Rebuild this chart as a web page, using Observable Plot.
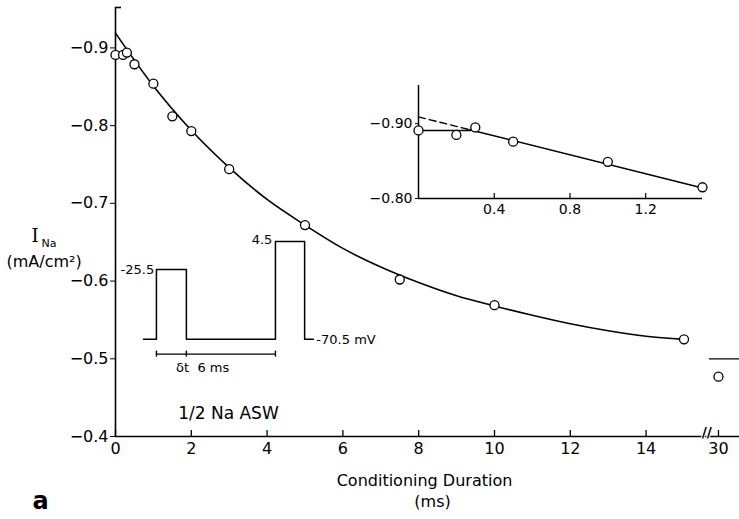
<!DOCTYPE html>
<html>
<head>
<meta charset="utf-8">
<script src="https://cdn.jsdelivr.net/npm/d3@7"></script>
<script src="https://cdn.jsdelivr.net/npm/@observablehq/plot@0.6"></script>
<style>
  body { margin: 0; background: #fff; }
  #wrap { position: relative; width: 739px; height: 519px; background: #fff; }
  #wrap svg { position: absolute; background: transparent; }
</style>
</head>
<body>
<div id="wrap"></div>
<script>
// ---- Main panel data (conditioning duration, ms ; I_Na, mA/cm^2) ----
const pointT = [0, 0.2, 0.3, 0.5, 1, 1.5, 2, 3, 5, 7.5, 10, 15, 30];
const pointI = [-0.891, -0.891, -0.894, -0.879, -0.854, -0.812, -0.793, -0.744, -0.672, -0.602, -0.569, -0.525, -0.477];

// fitted exponential curve
const curveT = [0, 1, 2, 3, 4, 5, 6, 7, 8, 9, 10, 11, 12, 13, 14, 15];
const curveI = [-0.919, -0.851, -0.794, -0.746, -0.705, -0.672, -0.642, -0.618, -0.598, -0.581, -0.568, -0.556, -0.545, -0.536, -0.529, -0.525];

// asymptote marker near 30 ms
const asymT = [19, 60];
const asymI = -0.5;

const xTicks = [0, 2, 4, 6, 8, 10, 12, 14, 30];
const yTicks = [-0.4, -0.5, -0.6, -0.7, -0.8, -0.9];
const breakAt = 15.6;

// pulse protocol schematic (drawn in main-panel units)
const pulseT = [0.74, 1.08, 1.08, 1.87, 1.87, 4.22, 4.22, 4.99, 4.99, 5.22];
const pulseI = [-0.525, -0.525, -0.615, -0.615, -0.525, -0.525, -0.651, -0.651, -0.525, -0.525];
const bracketT = [1.08, 1.87, 4.22];
const bracketI = -0.506;
const labelsEnd = [
  {t: 1.02, i: -0.614, text: "-25.5"},
  {t: 4.14, i: -0.653, text: "4.5"}
];
const labelsStart = [
  {t: 5.30, i: -0.525, text: "-70.5 mV"}
];
const labelsMid = [
  {t: 2.30, i: -0.488, text: "\u03b4t  6 ms"}
];
const solutionLabel = "1/2 Na ASW";

// ---- Inset data ----
const insetT = [0, 0.2, 0.3, 0.5, 1.0, 1.5];
const insetI = [-0.891, -0.885, -0.895, -0.876, -0.849, -0.815];
const insetFitT = [0.27, 1.5];
const insetFitI = [-0.892, -0.814];
const insetDashT = [0, 0.27];
const insetDashI = [-0.909, -0.892];
const insetFlatT = [0, 0.28];
const insetFlatI = -0.891;
const insetXTicks = [0.4, 0.8, 1.2];
const insetYTicks = [-0.8, -0.9];

// broken x axis: compress everything past the break
const squeeze = 0.0215;
const brk = t => t <= breakAt ? t : breakAt + (t - breakAt) * squeeze;
const unbrk = u => u <= breakAt + 1e-9 ? u : breakAt + (u - breakAt) / squeeze;

const font = "DejaVu Sans, Verdana, sans-serif";
const pts = pointT.map((t, k) => ({t: brk(t), i: pointI[k]}));
const curve = curveT.map((t, k) => ({t: brk(t), i: curveI[k]}));
const pulse = pulseT.map((t, k) => ({t, i: pulseI[k]}));
const txt = {x: "t", y: "i", text: "text", fontSize: 13, fill: "#000"};

const main = Plot.plot({
  width: 739,
  height: 519,
  marginLeft: 115,
  marginRight: 0,
  marginTop: 7,
  marginBottom: 83,
  style: {fontFamily: font, fontSize: "16px", color: "#000", background: "transparent"},
  x: {domain: [0, 624 / 37.9]},
  y: {domain: [-0.4, -0.952]},
  marks: [
    // axes lines
    Plot.ruleX([0], {stroke: "#000", strokeWidth: 1.6}),
    Plot.ruleY([-0.952], {x1: 0, x2: 0, insetRight: -6, stroke: "#000", strokeWidth: 1.6}),
    Plot.ruleY([-0.4], {stroke: "#000", strokeWidth: 1.6}),
    Plot.ruleX(xTicks.map(brk), {x: d => d, y1: -0.4, y2: -0.4, insetTop: -6, stroke: "#000", strokeWidth: 1.3}),
    Plot.text(["//"], {x: breakAt, y: -0.4, text: d => d, fontSize: 14, fontWeight: "bold", fill: "#000", stroke: "#fff", strokeWidth: 2, paintOrder: "stroke", dy: -4}),
    Plot.axisY(yTicks, {tickSize: 5, tickPadding: 2, fontSize: 16, label: null, tickFormat: d => "\u2212" + (-d).toFixed(1)}),
    Plot.axisX(xTicks.map(brk), {tickSize: 0, tickPadding: 6, fontSize: 16, label: null, tickFormat: u => String(Math.round(unbrk(u)))}),
    // data
    Plot.line(curve, {x: "t", y: "i", curve: "monotone-x", stroke: "#000", strokeWidth: 1.6}),
    Plot.ruleY([asymI], {x1: brk(asymT[0]), x2: brk(asymT[1]), stroke: "#000", strokeWidth: 1.3}),
    Plot.dot(pts, {x: "t", y: "i", r: 4.5, fill: "#fff", stroke: "#000", strokeWidth: 1.3}),
    // pulse schematic
    Plot.line(pulse, {x: "t", y: "i", stroke: "#000", strokeWidth: 1.5}),
    Plot.ruleY([bracketI], {x1: bracketT[0], x2: bracketT[2], stroke: "#000", strokeWidth: 1.4}),
    Plot.ruleX(bracketT, {x: d => d, y1: bracketI, y2: bracketI, insetTop: -3, insetBottom: -3, stroke: "#000", strokeWidth: 1.4}),
    Plot.text(labelsEnd, {...txt, textAnchor: "end"}),
    Plot.text(labelsStart, {...txt, textAnchor: "start"}),
    Plot.text(labelsMid, {...txt, textAnchor: "middle"}),
    Plot.text([solutionLabel], {x: 2.98, y: -0.430, text: d => d, fontSize: 17, fill: "#000"}),
    // axis titles
    Plot.text(["Conditioning Duration"], {frameAnchor: "bottom", dx: -3, dy: 49, text: d => d, fontSize: 16, fill: "#000"}),
    Plot.text(["(ms)"], {frameAnchor: "bottom", dx: 5, dy: 70, text: d => d, fontSize: 16, fill: "#000"}),
    Plot.text(["I"], {frameAnchor: "top-left", textAnchor: "start", dx: -84, dy: 222, text: d => d, fontSize: 18, fontFamily: "DejaVu Serif, serif", fill: "#000"}),
    Plot.text(["Na"], {frameAnchor: "top-left", textAnchor: "start", dx: -74, dy: 232, text: d => d, fontSize: 11, fill: "#000"}),
    Plot.text(["(mA/cm\u00b2)"], {frameAnchor: "top-left", textAnchor: "start", dx: -109, dy: 248, text: d => d, fontSize: 16, fill: "#000"}),
    Plot.text(["a"], {frameAnchor: "bottom-left", textAnchor: "start", dx: -83, dy: 72, text: d => d, fontSize: 24, fontWeight: "bold", fill: "#000"})
  ]
});
main.style.left = "0px";
main.style.top = "0px";

const ins = insetT.map((t, k) => ({t, i: insetI[k]}));
const inset = Plot.plot({
  width: 370,
  height: 150,
  marginLeft: 58,
  marginRight: 28,
  marginTop: 10,
  marginBottom: 27,
  style: {fontFamily: font, fontSize: "14px", color: "#000", background: "transparent"},
  x: {domain: [0, 1.5]},
  y: {domain: [-0.8, -0.951]},
  marks: [
    Plot.ruleX([0], {stroke: "#000", strokeWidth: 1.5}),
    Plot.ruleY([-0.8], {x1: 0, x2: 1.5, stroke: "#000", strokeWidth: 1.5}),
    Plot.ruleX(insetXTicks, {x: d => d, y1: -0.8, y2: -0.8, insetTop: -5, stroke: "#000", strokeWidth: 1.2}),
    Plot.axisY(insetYTicks, {tickSize: 3, tickPadding: 3, fontSize: 14, label: null, tickFormat: d => "\u2212" + (-d).toFixed(2)}),
    Plot.axisX(insetXTicks, {tickSize: 0, tickPadding: 6, fontSize: 14, label: null}),
    Plot.line(insetDashT.map((t, k) => ({t, i: insetDashI[k]})), {x: "t", y: "i", stroke: "#000", strokeWidth: 1.4, strokeDasharray: "7,4"}),
    Plot.line(insetFitT.map((t, k) => ({t, i: insetFitI[k]})), {x: "t", y: "i", stroke: "#000", strokeWidth: 1.5}),
    Plot.ruleY([insetFlatI], {x1: insetFlatT[0], x2: insetFlatT[1], stroke: "#000", strokeWidth: 1.5}),
    Plot.dot(ins, {x: "t", y: "i", r: 4.5, fill: "#fff", stroke: "#000", strokeWidth: 1.3})
  ]
});
inset.style.left = "360px";
inset.style.top = "75px";

const wrap = document.getElementById("wrap");
wrap.appendChild(main);
wrap.appendChild(inset);
</script>
</body>
</html>
